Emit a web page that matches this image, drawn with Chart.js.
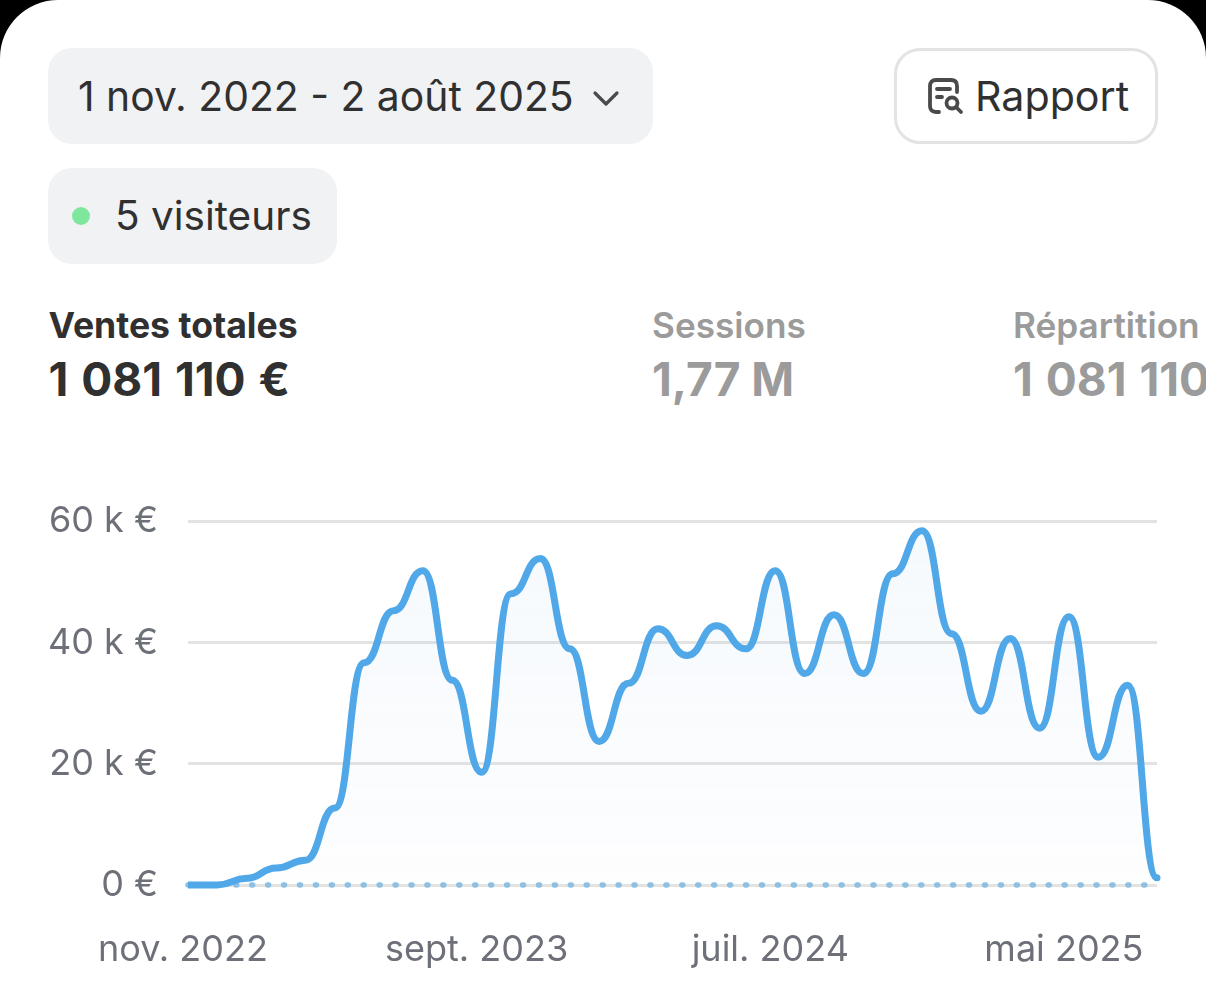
<!DOCTYPE html>
<html lang="fr"><head><meta charset="utf-8">
<script src="https://cdn.jsdelivr.net/npm/chart.js@4"></script>
<style>
html,body{margin:0;padding:0;background:#000;width:1206px;height:985px;overflow:hidden}
#card{position:absolute;left:0;top:0;width:1206px;height:985px;background:#fff;border-radius:58px 58px 0 0;overflow:hidden;font-family:Inter,sans-serif;color:#303030}
.t{position:absolute;white-space:nowrap;line-height:1}
.pill{position:absolute;background:#f1f2f4;border-radius:24px}
#wrap{position:absolute;left:0;top:470px;width:1206px;height:515px}
</style></head><body>
<div id="card">
<div class="pill" style="left:48px;top:48px;width:605px;height:96px"></div>
<div class="t" style="left:78px;top:76px;font-size:40.85px">1 nov. 2022 - 2 août 2025</div>
<svg style="position:absolute;left:592px;top:90px" width="28" height="18" viewBox="0 0 28 18"><path d="M3 3 L14 14 L25 3" fill="none" stroke="#4a4a4a" stroke-width="3.2" stroke-linecap="round" stroke-linejoin="round"/></svg>
<div style="position:absolute;left:894px;top:48px;width:258px;height:90px;border:3px solid #e3e3e3;border-radius:26px"></div>
<svg style="position:absolute;left:925px;top:76px" width="40" height="40" viewBox="0 0 40 40" fill="none" stroke="#4a4a4a" stroke-width="3.8" stroke-linecap="round"><path d="M14 36 H11 Q5 36 5 30 V10 Q5 4 11 4 H26 Q32 4 32 10 V16"/><path d="M12 13 H25 M12 21 H17"/><circle cx="27" cy="27" r="5.5"/><path d="M31 31 L36 36"/></svg>
<div class="t" style="left:975px;top:76px;font-size:41.2px">Rapport</div>
<div class="pill" style="left:48px;top:168px;width:289px;height:96px"></div>
<div style="position:absolute;left:72px;top:207px;width:18px;height:18px;border-radius:50%;background:#7ee69d"></div>
<div class="t" style="left:115px;top:196px;font-size:40.5px">5 visiteurs</div>
<div class="t" style="left:48.5px;top:308px;font-size:35.6px;font-weight:700">Ventes totales</div>
<div class="t" style="left:48.5px;top:356px;font-size:46px;font-weight:700;word-spacing:2px">1 081 110 €</div>
<div class="t" style="left:652px;top:308px;font-size:35.2px;font-weight:600;color:#9b9b9b">Sessions</div>
<div class="t" style="left:652px;top:356px;font-size:46px;font-weight:700;color:#9b9b9b">1,77 M</div>
<div class="t" style="left:1013px;top:308px;font-size:35.2px;font-weight:600;color:#9b9b9b">Répartition</div>
<div class="t" style="left:1013px;top:356px;font-size:46px;font-weight:700;color:#9b9b9b;word-spacing:2px">1 081 110 €</div>
<div id="wrap"><canvas id="c" role="img" aria-label="Ventes totales par mois"></canvas></div>
</div>
<script>
const months = ["nov. 2022","déc. 2022","janv. 2023","févr. 2023","mars 2023","avr. 2023","mai 2023","juin 2023","juil. 2023","août 2023","sept. 2023","oct. 2023","nov. 2023","déc. 2023","janv. 2024","févr. 2024","mars 2024","avr. 2024","mai 2024","juin 2024","juil. 2024","août 2024","sept. 2024","oct. 2024","nov. 2024","déc. 2024","janv. 2025","févr. 2025","mars 2025","avr. 2025","mai 2025","juin 2025","juil. 2025","août 2025"];
const salesK = [0,0,1.1,2.8,4.1,12.7,36.7,45.3,51.9,33.8,18.6,48.1,53.9,39,23.7,33.3,42.3,37.9,42.8,39,51.9,34.9,44.6,34.9,51.4,58.5,41.5,28.7,40.7,25.9,44.3,21.1,33,1.2];
const compareK = [0,0,0,0,0,0,0,0,0,0,0,0,0,0,0,0,0,0,0,0,0,0,0,0,0,0,0,0,0,0,0,0,0,0];
const xTickLabels = ["nov. 2022","sept. 2023","juil. 2024","mai 2025"];
const yTicks = [0,20,40,60];

// Horizontal tangents at every point (bump-style curve), as in the reference.
const bumpCurve = {id:'bumpCurve',afterDatasetsUpdate(chart){
  const line = chart.getDatasetMeta(0).dataset;
  const pts = line.points;
  pts.forEach((p,i)=>{
    const prev = pts[i-1], next = pts[i+1];
    p.cp1x = prev ? p.x-(p.x-prev.x)/2 : p.x; p.cp1y = p.y;
    p.cp2x = next ? p.x+(next.x-p.x)/2 : p.x; p.cp2y = p.y;
  });
  line._pointsUpdated = true;
}};

Chart.defaults.font.family = "Inter, sans-serif";
new Chart(document.getElementById('c'), {
  type:'line',
  plugins:[bumpCurve],
  data:{labels:months,datasets:[
    {label:'Ventes totales',data:salesK,borderColor:'#50a8e8',borderWidth:7,tension:0.4,pointRadius:0,borderCapStyle:'round',borderJoinStyle:'round',clip:{left:0,right:10,top:10,bottom:10},order:1,fill:'origin',
     backgroundColor(ctx){const a=ctx.chart.chartArea;if(!a)return 'transparent';const g=ctx.chart.ctx.createLinearGradient(0,a.top,0,a.bottom);g.addColorStop(0,'rgba(80,168,232,0.06)');g.addColorStop(1,'rgba(80,120,200,0.008)');return g;}},
    {label:'Période précédente',data:compareK,borderColor:'#8fc0e3',borderWidth:5.5,borderDash:[1,14.93],borderCapStyle:'round',pointRadius:0,clip:false,order:2,fill:false}
  ]},
  options:{responsive:true,maintainAspectRatio:false,animation:false,
    layout:{padding:{top:31,right:49,left:0,bottom:0}},
    plugins:{legend:{display:false},tooltip:{enabled:false}},
    scales:{
      x:{offset:false,border:{display:false},grid:{display:false,drawTicks:false},
        afterFit(s){s.height=100;},
        ticks:{autoSkip:false,maxRotation:0,minRotation:0,padding:44,labelOffset:-5,color:'#6d7078',font:{size:36},
          callback(v){const l=months[v];return xTickLabels.includes(l)?l:'';}}},
      y:{min:0,max:60,border:{display:false},
        afterFit(s){s.width=188;},
        afterBuildTicks(s){s.ticks=yTicks.map(v=>({value:v}));},
        grid:{color:'#e3e3e3',lineWidth:3,drawTicks:false},
        ticks:{padding:30,color:'#6d7078',font:{size:36},callback:v=>v===0?'0 €':v+' k €'}}
    }}
});
</script>
</body></html>
